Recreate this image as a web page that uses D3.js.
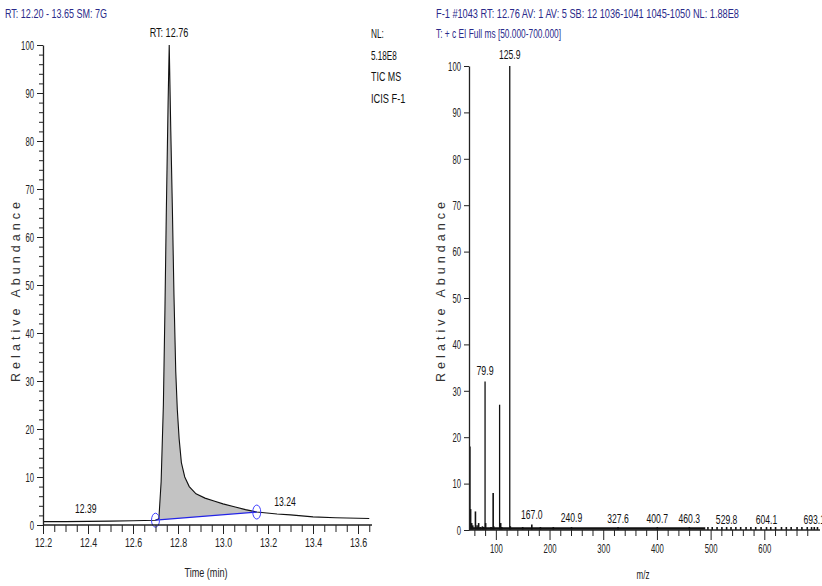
<!DOCTYPE html>
<html>
<head>
<meta charset="utf-8">
<script src="https://cdn.jsdelivr.net/npm/d3@7"></script>
<style>
  body { margin: 0; background: #fff; }
  text { font-family: "Liberation Sans", Arial, sans-serif; }
</style>
</head>
<body>
<div id="chart"></div>
<script>
// chromatogram (time in min, relative abundance)
const chromTime = [12.20, 12.30, 12.40, 12.50, 12.60, 12.70, 12.715, 12.725, 12.735, 12.742, 12.748, 12.756, 12.761,
    12.768, 12.775, 12.782, 12.790, 12.797, 12.805, 12.815, 12.83, 12.85, 12.88, 12.92, 12.96, 13.00, 13.05,
    13.10, 13.15, 13.24, 13.30, 13.40, 13.50, 13.60, 13.65];
const chromAbund = [0.7, 0.7, 0.75, 0.8, 0.9, 1.0, 1.3, 9, 25, 45, 65, 88, 100,
    82, 66, 48, 32, 24, 18, 13, 10, 8, 6.5, 5.6, 5.0, 4.4, 3.8,
    3.2, 2.7, 2.3, 2.1, 1.7, 1.5, 1.4, 1.35];
// integrated peak limits
const peakStart = [12.70, 1.0];
const peakEnd = [13.15, 2.7];
const chromLabels = [["RT: 12.76", 12.76, 100], ["12.39", 12.39, 0.75], ["13.24", 13.24, 2.3]];
const chromTicks = [12.2, 12.4, 12.6, 12.8, 13.0, 13.2, 13.4, 13.6];
const chromInfo = ["NL:", "5.18E8", "TIC  MS", "ICIS F-1"];

// mass spectrum (m/z, relative abundance)
const specMz = [51.9, 53, 55, 57, 62, 65, 68, 71, 75, 77, 79.9, 81, 91, 95, 96, 107, 109, 111, 125.9, 127,
    150, 167.0, 183, 207, 240.9, 327.6, 400.7, 460.3];
const specInt = [18, 4.5, 1.5, 1, 4, 1, 1.5, 0.6, 0.8, 0.6, 32, 1.5, 0.6, 8, 0.8, 27, 1.5, 0.5, 100, 0.8,
    0.5, 1.2, 0.5, 0.4, 0.6, 0.5, 0.5, 0.5];
const specSparseMz = [495, 503, 512, 521, 529.8, 538, 547, 556, 566, 575, 584, 594, 604.1, 612, 621, 632,
    641, 650, 661, 670, 680, 688, 693.1, 699];
const specSparseInt = [0.3, 0.2, 0.3, 0.2, 0.3, 0.2, 0.3, 0.2, 0.3, 0.2, 0.3, 0.2, 0.3, 0.2, 0.3, 0.2,
    0.3, 0.2, 0.3, 0.2, 0.3, 0.2, 0.3, 0.2];
const noiseRange = [50, 490];
const specLabels = [125.9, 79.9, 167.0, 240.9, 327.6, 400.7, 460.3, 529.8, 604.1, 693.1];
const specTicks = [100, 200, 300, 400, 500, 600];

const W = 822, H = 586;
const navy = "#2a2a8a", axisCol = "#222", labelCol = "#222";
const FS = 13.5, CHAR_W = 4.3;

const svg = d3.select("#chart").append("svg")
    .attr("width", W).attr("height", H)
    .style("background", "#fff");

// squeeze text into a narrow face like the instrument software uses
function narrow(sel, w) {
    sel.attr("font-size", FS)
        .attr("lengthAdjust", "spacingAndGlyphs")
        .attr("textLength", function(d) { return w || this.textContent.length * CHAR_W; });
    return sel;
}

// ---------- left: chromatogram ----------
const xL = d3.scaleLinear().domain([12.2, 13.65]).range([43, 369.25]);
const yL = d3.scaleLinear().domain([0, 100]).range([525, 45]);
const gL = svg.append("g");

gL.append("text").attr("x", 5).attr("y", 18).attr("fill", navy)
    .text("RT: 12.20 - 13.65  SM: 7G").call(narrow, 102);

chromInfo.forEach((t, i) => {
    gL.append("text").attr("x", 371).attr("y", 38 + i * 21.5)
        .attr("fill", "#111").text(t).call(narrow);
});

// filled peak area between curve and baseline
const pts = chromTime.map((t, i) => [t, chromAbund[i]]);
const inPeak = pts.filter(p => p[0] >= peakStart[0] && p[0] <= peakEnd[0]);
const baseAt = t => peakStart[1] + (peakEnd[1] - peakStart[1]) * (t - peakStart[0]) / (peakEnd[0] - peakStart[0]);
const area = d3.area().x(d => xL(d[0])).y1(d => yL(d[1])).y0(d => yL(baseAt(d[0])));
gL.append("path").datum(inPeak).attr("d", area).attr("fill", "#c3c3c3");

gL.append("path").datum(pts)
    .attr("d", d3.line().x(d => xL(d[0])).y(d => yL(d[1])))
    .attr("fill", "none").attr("stroke", "#111").attr("stroke-width", 1.1);

gL.append("line")
    .attr("x1", xL(peakStart[0])).attr("y1", yL(peakStart[1]))
    .attr("x2", xL(peakEnd[0])).attr("y2", yL(peakEnd[1]))
    .attr("stroke", "#2323e6").attr("stroke-width", 1.3);
[peakStart, peakEnd].forEach(p => {
    gL.append("ellipse").attr("cx", xL(p[0])).attr("cy", yL(p[1]))
        .attr("rx", 4).attr("ry", 7).attr("fill", "none")
        .attr("stroke", "#4040ff").attr("stroke-width", 1);
});

chromLabels.forEach(([t, x, v], i) => {
    gL.append("text").attr("x", xL(x) + (i === 2 ? 8 : 0)).attr("y", yL(v) - 8)
        .attr("text-anchor", "middle").attr("fill", "#111").text(t).call(narrow);
});

// axes
const xAxisL = gL.append("g").attr("transform", "translate(0,525)")
    .call(d3.axisBottom(xL).tickValues(chromTicks).tickFormat(d3.format(".1f")).tickSize(9).tickSizeOuter(0));
gL.append("g").attr("transform", "translate(0,525)")
    .call(d3.axisBottom(xL).tickValues(d3.range(12.25, 13.65, 0.05).filter(v => Math.abs(Math.round(v * 5) - v * 5) > 0.01))
        .tickFormat("").tickSize(7).tickSizeOuter(0))
    .select(".domain").remove();
xAxisL.select(".domain").attr("d", "M43,0H372");
gL.append("g").attr("transform", "translate(43,0)")
    .call(d3.axisLeft(yL).tickValues(d3.range(0, 101, 10)).tickSize(6).tickSizeOuter(0));
gL.append("g").attr("transform", "translate(43,0)")
    .call(d3.axisLeft(yL).tickValues(d3.range(2, 100, 2).filter(v => v % 10 !== 0)).tickFormat("").tickSize(4))
    .select(".domain").remove();

gL.append("text").attr("transform", "translate(20,292) rotate(-90)")
    .attr("text-anchor", "middle").attr("font-size", 12.5).attr("fill", "#333")
    .attr("textLength", 180).attr("lengthAdjust", "spacing")
    .text("Relative Abundance");
gL.append("text").attr("x", 206).attr("y", 577).attr("text-anchor", "middle")
    .attr("fill", labelCol).text("Time (min)").call(narrow);

// ---------- right: mass spectrum ----------
const xR = d3.scaleLinear().domain([50, 700]).range([469, 818]);
const yR = d3.scaleLinear().domain([0, 100]).range([530, 66]);
const gR = svg.append("g");

gR.append("text").attr("x", 436).attr("y", 18).attr("fill", navy)
    .text("F-1 #1043  RT: 12.76  AV: 1  AV: 5  SB: 12 1036-1041 1045-1050  NL: 1.88E8").call(narrow, 303);
gR.append("text").attr("x", 436).attr("y", 38).attr("fill", navy)
    .text("T: + c EI Full ms [50.000-700.000]").call(narrow, 125);

// noise floor band
gR.append("line")
    .attr("x1", xR(noiseRange[0])).attr("x2", xR(noiseRange[1]))
    .attr("y1", yR(0) - 1.5).attr("y2", yR(0) - 1.5)
    .attr("stroke", "#111").attr("stroke-width", 2.5);

const bars = specMz.map((m, i) => [m, specInt[i]]).concat(specSparseMz.map((m, i) => [m, specSparseInt[i]]));
gR.selectAll(".bar").data(bars).join("line").attr("class", "bar")
    .attr("x1", d => xR(d[0])).attr("x2", d => xR(d[0]))
    .attr("y1", yR(0)).attr("y2", d => Math.min(yR(d[1]), yR(0) - 3))
    .attr("stroke", "#111").attr("stroke-width", d => d[1] > 10 ? 1.3 : 1.6);

specLabels.forEach(m => {
    const v = bars.find(b => b[0] === m)[1];
    gR.append("text").attr("x", xR(m)).attr("y", yR(v) - (v > 10 ? 7 : 5))
        .attr("text-anchor", "middle").attr("fill", "#111").text(m.toFixed(1)).call(narrow);
});

const xAxisR = gR.append("g").attr("transform", "translate(0,530)")
    .call(d3.axisBottom(xR).tickValues(specTicks).tickSize(10).tickSizeOuter(0));
gR.append("g").attr("transform", "translate(0,530)")
    .call(d3.axisBottom(xR).tickValues(d3.range(60, 700, 20).filter(v => v % 100 !== 0)).tickFormat("").tickSize(6))
    .select(".domain").remove();
xAxisR.select(".domain").attr("d", "M469,0H820");
gR.append("g").attr("transform", "translate(469,0)")
    .call(d3.axisLeft(yR).tickValues(d3.range(0, 101, 10)).tickSize(5).tickSizeOuter(0));

gR.append("text").attr("transform", "translate(445,292) rotate(-90)")
    .attr("text-anchor", "middle").attr("font-size", 12.5).attr("fill", "#333")
    .attr("textLength", 180).attr("lengthAdjust", "spacing")
    .text("Relative Abundance");
gR.append("text").attr("x", 643).attr("y", 579).attr("text-anchor", "middle")
    .attr("fill", labelCol).text("m/z").call(narrow);

// axis styling
svg.selectAll(".domain").attr("stroke", axisCol).attr("stroke-width", 1.3);
svg.selectAll(".tick line").attr("stroke", axisCol);
svg.selectAll(".tick text").attr("fill", labelCol).attr("font-family", "Liberation Sans, Arial").call(narrow);
</script>
</body>
</html>
